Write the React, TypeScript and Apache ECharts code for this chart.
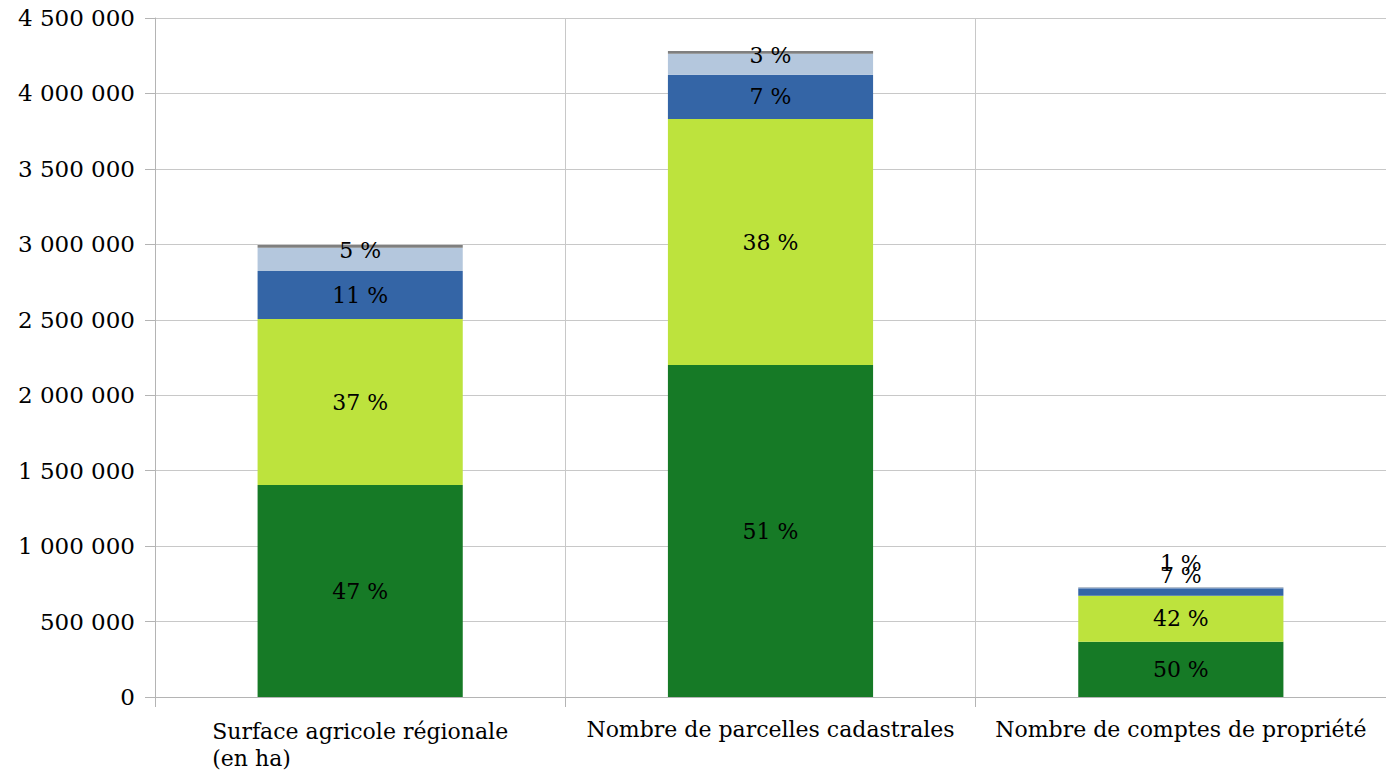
import React, { useEffect, useRef } from "react";
import * as echarts from "echarts";

const categories = [
  "Surface agricole régionale\n(en ha)",
  "Nombre de parcelles cadastrales",
  "Nombre de comptes de propriété",
];

// Stacked segments, bottom to top
const segDarkGreen = [1405000, 2200000, 366000];
const segLightGreen = [1100000, 1630000, 305000];
const segBlue = [318000, 294000, 50000];
const segLightBlue = [155000, 139000, 6000];
const segGray = [17000, 18000, 2000];

const yTicks = { min: 0, max: 4500000, interval: 500000 };

const FONT = "DejaVu Serif";

const totals = categories.map(
  (_, i) => segDarkGreen[i] + segLightGreen[i] + segBlue[i] + segLightBlue[i] + segGray[i]
);

const pct = (v: number, i: number) => `${Math.round((v / totals[i]) * 100)} %`;

const fmtThousands = (v: number) =>
  String(v).replace(/\B(?=(\d{3})+(?!\d))/g, " ");

export default function App() {
  const ref = useRef<HTMLDivElement>(null);

  useEffect(() => {
    if (!ref.current) return;
    const chart = echarts.init(ref.current, null, { renderer: "svg" });

    const labelBase = {
      show: true,
      position: "inside" as const,
      color: "#000",
      fontFamily: FONT,
      fontSize: 22,
      formatter: (p: any) => pct(p.value, p.dataIndex),
    };

    const makeSeries = (
      name: string,
      values: number[],
      color: string,
      offsets: ([number, number] | null)[] | null,
      showLabel = true
    ) => ({
      name,
      type: "bar",
      stack: "total",
      barWidth: "50%",
      itemStyle: { color },
      label: { ...labelBase, show: showLabel },
      data: values.map((v, i) =>
        offsets && offsets[i]
          ? { value: v, label: { offset: offsets[i] } }
          : v
      ),
    });

    chart.setOption({
      animation: false,
      backgroundColor: "#fff",
      grid: { left: 155, right: 0, top: 18, bottom: 77, containLabel: false },
      xAxis: {
        type: "category",
        data: categories,
        boundaryGap: true,
        axisLine: { show: true, lineStyle: { color: "#b4b4b4", width: 1 } },
        axisTick: { show: true, length: 10, lineStyle: { color: "#b4b4b4" } },
        splitLine: { show: true, lineStyle: { color: "#c8c8c8", width: 1 } },
        axisLabel: {
          color: "#000",
          fontFamily: FONT,
          fontSize: 22,
          margin: 21,
          interval: 0,
          formatter: (v: string) =>
            v.includes("\n")
              ? v
                  .split("\n")
                  .map((l) => `{l|${l}}`)
                  .join("\n")
              : v,
          rich: {
            l: {
              align: "left",
              color: "#000",
              fontFamily: FONT,
              fontSize: 22,
              lineHeight: 27,
            },
          },
        },
      },
      yAxis: {
        type: "value",
        min: yTicks.min,
        max: yTicks.max,
        interval: yTicks.interval,
        axisLine: { show: true, lineStyle: { color: "#b4b4b4", width: 1 } },
        axisTick: { show: true, length: 10, lineStyle: { color: "#b4b4b4" } },
        splitLine: { show: true, lineStyle: { color: "#c8c8c8", width: 1 } },
        axisLabel: {
          color: "#000",
          fontFamily: FONT,
          fontSize: 23,
          margin: 20,
          formatter: (v: number) => fmtThousands(v),
        },
      },
      series: [
        makeSeries("dark", segDarkGreen, "#167a26", null),
        makeSeries("light", segLightGreen, "#bde33d", null),
        makeSeries("blue", segBlue, "#3465a6", [null, null, [0, -16]]),
        makeSeries("lightblue", segLightBlue, "#b4c7dd", [[0, -9], [0, -9], [0, -24]]),
        makeSeries("gray", segGray, "#7f7f7f", null, false),
      ],
    });

    return () => chart.dispose();
  }, []);

  return (
    <div
      ref={ref}
      style={{ position: "fixed", left: 0, top: 0, width: 1386, height: 774 }}
    />
  );
}
